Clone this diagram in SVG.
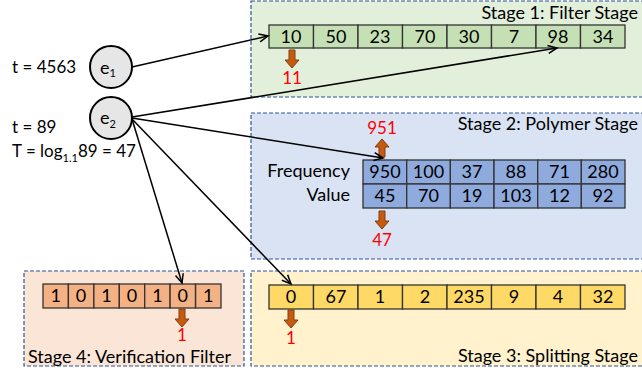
<svg xmlns="http://www.w3.org/2000/svg" width="642" height="375" viewBox="0 0 642 375">
<style>
text{font-family:Lato,"Open Sans","Liberation Sans",sans-serif;font-size:18px;fill:#000}
.c{text-anchor:middle}
.e{text-anchor:end}
.red{fill:#ff0000;text-anchor:middle;font-size:17px}
.lt{font-size:17px}
.stage{stroke:#2f5597;stroke-width:1.2;stroke-dasharray:4,2}
.cell{stroke:#333;stroke-width:1.3}
.g{fill:#c5e0b4}.b{fill:#8faadc}.y{fill:#ffd966}.o{fill:#f4b183}
.blk{fill:#c55a11;stroke:#843c0c;stroke-width:1}
.con{fill:none;stroke:#000;stroke-width:1.5;marker-end:url(#ah)}
.node{fill:#e7e6e6;stroke:#000;stroke-width:2}
</style>
<defs>
<marker id="ah" markerWidth="12" markerHeight="10" refX="10" refY="5" orient="auto" markerUnits="userSpaceOnUse">
<path d="M1,1 L10,5 L1,9" fill="none" stroke="#000" stroke-width="1.5"/>
</marker>
<path id="down" class="blk" d="M-3,0 H3 V10 H7 L0,18 L-7,10 H-3 Z"/>
<path id="up" class="blk" d="M-3,0 H3 V-10 H7 L0,-18 L-7,-10 H-3 Z"/>
</defs>

<g id="stage1">
<rect class="stage" x="251" y="1" width="400" height="96" fill="#e2efda"/>
<text class="e" x="638" y="19">Stage 1: Filter Stage</text>
<g class="cell g">
<rect x="269" y="25" width="44.5" height="23"/><rect x="313.5" y="25" width="44.5" height="23"/><rect x="358" y="25" width="44.5" height="23"/><rect x="402.5" y="25" width="44.5" height="23"/><rect x="447" y="25" width="44.5" height="23"/><rect x="491.5" y="25" width="44.5" height="23"/><rect x="536" y="25" width="44.5" height="23"/><rect x="580.5" y="25" width="44.5" height="23"/>
</g>
<text class="c" x="291" y="43">10</text><text class="c" x="336" y="43">50</text><text class="c" x="380" y="43">23</text><text class="c" x="425" y="43">70</text><text class="c" x="469" y="43">30</text><text class="c" x="514" y="43">7</text><text class="c" x="558" y="43">98</text><text class="c" x="603" y="43">34</text>
<use href="#down" x="292" y="50"/>
<text class="red" x="292" y="84">11</text>
</g>

<g id="stage2">
<rect class="stage" x="251" y="113" width="400" height="146" fill="#dae3f3"/>
<text class="e" x="638" y="130">Stage 2: Polymer Stage</text>
<text class="e" x="350" y="177">Frequency</text>
<text class="e" x="350" y="201">Value</text>
<g class="cell b">
<rect x="363" y="160" width="43.7" height="24"/><rect x="406.7" y="160" width="43.7" height="24"/><rect x="450.3" y="160" width="43.7" height="24"/><rect x="494" y="160" width="43.7" height="24"/><rect x="537.7" y="160" width="43.7" height="24"/><rect x="581.3" y="160" width="43.7" height="24"/>
<rect x="363" y="184" width="43.7" height="24"/><rect x="406.7" y="184" width="43.7" height="24"/><rect x="450.3" y="184" width="43.7" height="24"/><rect x="494" y="184" width="43.7" height="24"/><rect x="537.7" y="184" width="43.7" height="24"/><rect x="581.3" y="184" width="43.7" height="24"/>
</g>
<text class="c" x="385" y="178">950</text><text class="c" x="428.5" y="178">100</text><text class="c" x="472" y="178">37</text><text class="c" x="516" y="178">88</text><text class="c" x="559.5" y="178">71</text><text class="c" x="603" y="178">280</text>
<text class="c" x="385" y="202">45</text><text class="c" x="428.5" y="202">70</text><text class="c" x="472" y="202">19</text><text class="c" x="516" y="202">103</text><text class="c" x="559.5" y="202">12</text><text class="c" x="603" y="202">92</text>
<use href="#up" x="382" y="157"/>
<text class="red" x="382" y="134">951</text>
<use href="#down" x="382" y="211"/>
<text class="red" x="382" y="246">47</text>
</g>

<g id="stage3">
<rect class="stage" x="251" y="271" width="400" height="95" fill="#fff2cc"/>
<text class="e" x="638" y="362">Stage 3: Splitting Stage</text>
<g class="cell y">
<rect x="269" y="285" width="44.5" height="24"/><rect x="313.5" y="285" width="44.5" height="24"/><rect x="358" y="285" width="44.5" height="24"/><rect x="402.5" y="285" width="44.5" height="24"/><rect x="447" y="285" width="44.5" height="24"/><rect x="491.5" y="285" width="44.5" height="24"/><rect x="536" y="285" width="44.5" height="24"/><rect x="580.5" y="285" width="44.5" height="24"/>
</g>
<text class="c" x="291" y="303">0</text><text class="c" x="336" y="303">67</text><text class="c" x="380" y="303">1</text><text class="c" x="425" y="303">2</text><text class="c" x="469" y="303">235</text><text class="c" x="514" y="303">9</text><text class="c" x="558" y="303">4</text><text class="c" x="603" y="303">32</text>
<use href="#down" x="291" y="310"/>
<text class="red" x="291" y="344">1</text>
</g>

<g id="stage4">
<rect class="stage" x="24" y="271" width="220" height="95" fill="#fbe5d6"/>
<text x="28" y="363" font-size="17.5">Stage 4: Verification Filter</text>
<g class="cell o">
<rect x="43" y="284" width="25.4" height="24"/><rect x="68.4" y="284" width="25.4" height="24"/><rect x="93.9" y="284" width="25.4" height="24"/><rect x="119.3" y="284" width="25.4" height="24"/><rect x="144.7" y="284" width="25.4" height="24"/><rect x="170.1" y="284" width="25.4" height="24"/><rect x="195.6" y="284" width="25.4" height="24"/>
</g>
<text class="c" x="55.7" y="302">1</text><text class="c" x="81.1" y="302">0</text><text class="c" x="106.6" y="302">1</text><text class="c" x="132" y="302">0</text><text class="c" x="157.4" y="302">1</text><text class="c" x="182.8" y="302">0</text><text class="c" x="208.3" y="302">1</text>
<use href="#down" x="182" y="309"/>
<text class="red" x="182" y="341" font-size="16">1</text>
</g>

<g id="e1">
<circle class="node" cx="111" cy="67" r="21"/>
<text x="100" y="74">e<tspan font-size="11" dy="3">1</tspan></text>
<text class="lt" x="12" y="73">t = 4563</text>
</g>

<g id="e2">
<circle class="node" cx="111" cy="118" r="21"/>
<text x="100" y="124">e<tspan font-size="11" dy="4">2</tspan></text>
<text class="lt" x="12" y="133">t = 89</text>
<text class="lt" x="12" y="157">T = log<tspan font-size="11" dy="5">1.1</tspan><tspan dy="-5">89 = 47</tspan></text>
</g>

<g id="connectors">
<line class="con" x1="132" y1="67" x2="268" y2="36"/>
<line class="con" x1="132" y1="117" x2="557" y2="48"/>
<line class="con" x1="132" y1="118" x2="383" y2="158"/>
<line class="con" x1="132" y1="119" x2="182" y2="283"/>
<line class="con" x1="132" y1="119" x2="291" y2="284"/>
</g>
</svg>
